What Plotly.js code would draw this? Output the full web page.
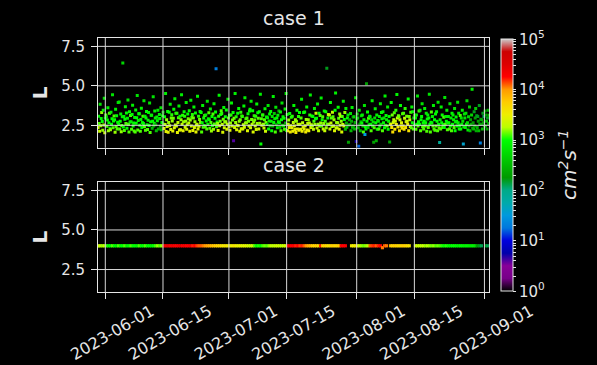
<!DOCTYPE html>
<html><head><meta charset="utf-8">
<script src="https://cdn.plot.ly/plotly-3.0.1.min.js"></script>
<style>html,body{margin:0;padding:0;background:#000;}</style>
</head><body><div id="chart" style="width:597px;height:365px;"></div>
<script>
// ---------- DATA ----------
const subplotTitles = ['case 1', 'case 2'];
const tickDates = ['2023-06-01','2023-06-15','2023-07-01','2023-07-15','2023-08-01','2023-08-15','2023-09-01'];
const yTickVals = [2.5, 5.0, 7.5];
const yTickText = ['2.5', '5.0', '7.5'];
const cbDecades = [0, 1, 2, 3, 4, 5];   // colorbar 10^0 ... 10^5 (cm^2 s^-1)
const cbLabel = '<i>cm<sup>2</sup>s<sup>\u22121</sup></i>';

// case 1: samples every 3 h from 2023-05-30 06:00, 8 per day (one row per day)
const case1Start = '2023-05-30T06:00:00';
const case1StepHours = 3;
const case1_L = [
2.36,3.08,2.61,2.12,3.84,2.47,2.93,3.31, 2.74,2.18,3.45,2.52,4.21,2.03,2.97,3.16,
3.02,2.44,2.83,3.62,2.15,2.66,3.27,2.31, 2.22,3.33,2.57,2.91,4.43,2.35,2.78,3.09,
2.85,2.06,3.52,2.43,3.11,2.27,2.69,3.94, 2.55,3.97,2.26,2.76,3.21,2.09,2.49,3.04,
6.45,2.39,3.06,2.17,2.88,3.67,2.62,3.28, 2.31,2.95,4.11,2.56,2.08,3.36,2.71,3.12,
2.73,2.25,3.18,3.77,2.46,2.64,2.14,2.99, 2.07,3.47,2.63,2.98,4.39,2.21,2.81,3.24,
3.23,2.51,2.13,2.87,3.58,2.36,2.68,3.07, 2.61,4.05,2.42,3.07,2.19,2.96,3.38,2.53,
2.24,2.82,3.31,2.49,3.91,2.04,2.72,3.14, 3.13,2.32,2.76,4.31,2.45,2.63,3.41,2.97,
2.53,2.15,3.03,2.79,3.46,2.27,2.91,3.19, 2.93,2.44,3.62,2.22,2.67,3.11,3.33,2.57,
2.29,3.05,2.55,4.52,2.11,2.85,2.42,3.38, 2.06,2.67,3.33,2.47,3.83,2.24,2.96,3.17,
2.77,2.14,2.95,3.51,2.34,4.19,2.52,3.26, 2.45,3.26,2.05,2.68,2.98,3.73,2.21,3.08,
2.22,2.86,4.44,2.57,3.13,2.16,2.73,3.36, 3.07,2.37,2.75,3.95,2.25,2.53,3.21,2.91,
2.64,3.42,2.12,2.83,4.09,2.46,2.99,3.18, 2.17,2.96,3.66,2.36,2.73,3.28,2.08,2.51,
2.56,4.34,2.26,3.08,2.44,2.87,3.37,2.67, 3.31,2.07,2.66,3.75,2.38,2.97,2.49,3.12,
2.41,3.16,2.77,2.27,4.02,2.56,2.91,3.29, 2.85,2.32,3.53,2.67,2.14,3.06,2.48,3.22,
2.25,3.86,2.58,2.95,3.35,6.08,2.41,2.71, 2.62,2.17,3.07,4.41,2.47,2.76,3.19,3.43,
3.25,2.55,2.06,2.88,3.63,2.35,2.71,3.04, 2.73,3.47,2.25,2.57,4.15,2.96,2.42,3.14,
2.18,2.65,3.15,3.92,2.46,2.83,3.31,1.52, 2.95,2.36,4.52,2.67,3.05,2.22,2.51,3.27,
2.47,3.56,2.75,2.13,2.86,3.33,2.28,3.09, 3.06,2.27,2.53,3.72,2.37,4.24,2.65,2.92,
2.66,2.97,2.16,3.23,2.75,2.45,3.41,3.51, 2.35,4.02,2.87,2.56,3.43,2.07,2.71,3.11,
2.83,2.45,3.08,2.23,3.85,2.62,3.29,2.95, 2.27,3.36,2.63,4.46,1.31,2.92,2.50,3.16,
3.16,2.56,2.33,2.85,3.55,2.12,2.68,3.02, 2.55,2.98,3.75,2.26,2.77,3.22,2.47,3.37,
2.75,2.16,3.06,2.45,4.33,2.67,3.25,2.92, 2.07,3.65,2.56,2.96,2.35,3.13,2.72,3.41,
2.66,2.37,3.35,2.15,2.86,3.91,2.50,3.04, 2.45,2.95,2.25,3.53,2.65,4.51,2.17,3.19,
2.16,2.57,2.83,2.36,3.25,2.08,2.47,3.01, 2.35,3.07,2.13,2.67,3.76,2.46,2.23,2.85,
2.05,2.76,3.45,2.26,2.55,3.06,2.18,3.31, 2.57,2.25,2.96,4.15,2.13,2.66,2.37,3.31,
2.26,3.35,2.47,2.07,2.87,3.66,2.21,2.62, 2.86,2.15,2.65,3.16,4.42,2.36,2.53,3.09,
2.46,3.06,2.25,2.75,3.57,2.55,2.91,3.27, 2.95,2.33,3.85,2.56,2.16,3.26,2.45,3.12,
2.65,4.23,2.46,2.86,3.05,2.26,2.61,3.41, 2.15,2.75,3.36,2.35,6.11,2.56,2.97,3.18,
2.56,3.16,2.27,3.95,2.65,2.96,2.42,3.33, 3.05,2.46,2.85,2.16,3.46,4.55,2.33,2.67,
2.35,2.66,3.65,2.95,2.25,3.22,2.51,3.07, 2.76,2.07,3.06,2.55,4.02,2.46,2.87,3.31,
2.25,3.56,2.65,2.37,2.96,3.15,1.42,2.52, 2.85,2.55,3.25,2.16,2.76,3.63,2.38,3.02,
2.46,3.05,2.26,2.67,4.25,1.47,2.90,3.21, 2.96,2.35,1.18,3.45,2.56,2.15,2.72,3.11,
2.65,3.16,2.46,2.07,2.85,3.75,1.92,2.41, 2.27,5.13,2.76,3.35,2.36,2.95,2.53,3.07,
3.05,2.56,2.16,2.86,4.06,2.45,2.71,1.43, 2.35,2.96,3.55,2.66,1.52,3.16,2.25,2.81,
2.76,2.26,3.06,2.46,3.86,2.57,3.31,2.92, 2.16,3.36,2.66,2.96,2.35,4.35,2.51,3.12,
2.86,2.45,3.66,2.25,2.76,3.06,1.45,2.58, 2.56,3.95,2.36,3.15,2.08,2.67,2.85,3.29,
2.25,2.76,3.46,2.55,4.45,2.96,2.40,3.11, 3.06,2.16,2.86,3.76,2.46,2.66,2.31,3.23,
2.46,3.26,2.25,2.95,3.56,2.36,2.72,3.08, 2.76,2.56,4.16,2.16,3.06,2.86,2.43,3.33,
2.35,3.66,2.66,3.36,2.26,2.96,2.52,3.13, 2.96,2.25,3.16,2.56,4.36,2.46,2.73,3.41,
2.56,3.46,2.16,2.86,3.06,3.86,2.41,2.65, 2.26,2.76,3.56,2.46,2.66,3.26,2.13,2.90,
3.16,2.36,2.96,4.46,2.56,2.07,2.70,3.35, 2.66,3.06,2.46,3.76,2.26,2.86,2.18,3.21,
2.46,3.36,2.76,2.16,3.96,2.56,2.35,1.41, 2.86,2.26,3.66,2.66,3.16,2.36,2.55,3.01,
2.36,4.26,2.56,3.06,2.76,3.46,2.22,2.65, 3.06,2.66,2.26,3.86,2.46,2.96,2.15,3.27,
2.56,3.16,2.86,2.36,3.56,2.16,2.71,3.02, 2.76,2.46,3.96,2.66,3.26,2.26,2.48,3.12,
2.26,2.96,2.56,3.46,2.76,1.32,2.40,3.22, 2.96,2.36,3.26,2.56,4.06,2.66,2.21,3.05,
2.46,3.66,2.16,2.86,2.56,3.16,4.78,2.33, 2.66,2.26,3.36,2.46,2.96,3.56,2.15,3.11,
2.36,3.06,2.76,2.16,3.76,2.56,1.38,2.88, 2.56,2.86,2.26,3.26,2.66,3.06,2.45,3.41,
2.46,3.16,2.76,2.26,2.96,3.46,2.61,3.13
];
const case1_log10D = [
3.3,2.9,3.1,3.3,2.8,3.2,3.0,3.2, 3.0,3.2,2.9,3.2,2.8,3.3,3.0,3.1,
2.9,3.1,3.0,2.9,3.2,3.0,3.1,2.9, 3.2,2.9,3.0,3.0,2.8,3.1,3.0,3.1,
3.0,3.2,2.9,3.1,3.0,3.1,3.0,2.8, 3.0,2.8,3.1,3.0,2.9,3.2,3.1,2.9,
2.7,3.0,2.9,3.1,3.0,2.9,3.1,3.0, 3.0,2.9,2.8,3.1,3.1,3.0,2.9,3.1,
2.9,3.1,3.0,2.9,3.0,3.0,3.1,2.9, 3.1,2.9,3.0,3.0,2.8,3.1,2.9,3.0,
3.0,3.0,3.1,2.9,2.9,3.0,2.9,3.1, 3.0,2.8,3.1,2.9,3.1,3.0,3.0,2.9,
3.1,2.9,2.9,3.0,2.8,3.1,3.0,3.0, 2.9,2.5,3.0,2.8,2.4,3.0,2.9,2.9,
2.4,2.5,2.9,3.0,2.8,2.4,2.6,2.9, 2.9,2.4,2.8,2.5,3.0,2.9,2.5,3.0,
3.4,3.0,3.25,2.9,3.45,3.2,3.35,3.0, 3.45,3.2,3.0,3.35,2.9,3.4,3.15,3.05,
3.2,3.45,3.15,3.0,3.4,2.9,3.3,3.05, 3.35,3.05,3.45,3.25,3.1,2.9,3.4,3.0,
3.4,3.2,2.9,3.3,3.05,3.45,3.2,3.0, 3.05,3.35,3.2,2.9,3.4,3.3,3.0,3.15,
3.25,3.0,3.45,3.2,2.9,3.35,3.1,3.05, 3.45,3.15,2.95,3.4,3.2,3.0,3.45,3.3,
3.3,2.9,3.4,3.05,3.35,3.15,3.0,3.2, 3.0,3.1,3.0,2.9,3.1,3.0,2.9,3.1,
3.1,2.9,3.0,3.1,2.8,3.0,2.9,3.1, 3.0,3.1,2.9,3.1,3.2,3.0,3.0,3.1,
3.2,2.9,3.1,3.0,3.0,1.3,3.1,3.0, 3.2,3.4,3.05,2.95,3.3,3.15,3.0,3.1,
3.05,3.25,3.4,3.15,2.95,3.35,3.2,3.0, 3.2,3.0,3.4,3.25,2.9,3.1,3.35,3.05,
3.4,3.2,3.05,2.95,3.3,3.15,3.0,0.6, 3.15,3.35,2.9,3.2,3.05,3.4,3.25,3.0,
3.3,3.0,3.2,3.4,3.15,3.05,3.35,3.1, 3.05,3.4,3.25,2.95,3.35,2.9,3.2,3.1,
3.2,3.1,3.4,3.0,3.15,3.3,3.0,2.95, 3.35,2.9,3.15,3.25,3.0,3.4,3.2,3.05,
3.15,3.3,3.05,3.35,2.95,3.2,3.0,3.1, 3.35,3.0,3.2,2.9,3.0,3.1,3.25,3.05,
3.05,3.2,3.3,3.1,2.95,3.35,3.15,3.0, 2.9,2.9,2.8,3.0,2.9,3.0,2.5,3.0,
2.9,3.0,2.8,2.5,2.9,3.0,2.6,2.9, 3.1,2.8,2.4,3.0,2.9,2.9,3.0,2.5,
3.0,2.6,2.9,3.1,3.0,2.8,2.4,3.0, 2.8,3.0,3.1,2.9,2.5,2.9,3.0,2.9,
3.5,3.3,3.2,3.45,3.0,3.55,3.4,3.05, 3.45,3.05,3.5,3.25,2.95,3.4,3.5,3.2,
3.55,3.2,3.0,3.45,3.3,3.05,3.5,3.0, 3.3,3.45,3.1,2.9,3.5,3.25,3.4,3.0,
3.45,3.0,3.4,3.55,3.2,2.95,3.5,3.25, 3.2,3.5,3.25,3.05,2.9,3.4,3.3,3.05,
3.2,3.0,3.3,3.1,2.9,3.2,3.0,3.3, 3.0,3.3,2.9,3.2,3.3,3.0,3.2,3.1,
3.2,2.9,3.1,3.0,3.1,3.3,3.2,2.9, 3.3,3.1,3.0,3.2,2.2,3.1,3.0,3.3,
3.2,3.3,3.3,3.0,3.3,3.1,3.2,3.3, 3.1,3.3,3.2,3.4,3.0,2.9,3.3,3.2,
3.3,3.2,3.0,3.1,3.4,3.2,3.3,3.3, 3.2,3.4,3.1,3.3,2.9,3.3,3.0,3.2,
2.5,2.9,2.4,2.6,3.0,2.8,2.3,2.5, 2.4,2.3,2.8,2.5,2.4,2.9,2.6,2.3,
2.3,2.7,2.5,2.4,2.9,0.7,2.4,2.6, 2.6,2.4,1.2,2.8,2.3,2.5,2.4,2.7,
3.0,2.9,2.6,3.1,2.9,2.8,1.5,3.0, 3.0,2.3,2.9,3.0,2.6,3.1,2.9,3.0,
2.9,3.0,3.1,2.7,2.9,3.0,2.8,2.3, 3.1,2.8,2.9,3.0,2.4,2.9,3.0,2.9,
2.8,3.1,2.9,3.0,2.9,2.6,3.0,2.9, 3.1,2.9,3.0,2.8,3.0,2.9,2.8,3.0,
2.9,3.1,2.8,3.0,2.9,3.0,2.3,2.9, 3.5,3.0,3.6,3.15,3.65,3.35,3.3,3.1,
3.6,3.35,3.05,3.5,2.95,3.3,3.55,3.15, 3.15,3.65,3.3,3.0,3.55,3.4,3.6,3.1,
3.55,3.1,3.6,3.3,3.05,3.6,3.35,3.15, 3.35,3.5,2.95,3.6,3.15,3.3,3.5,3.1,
3.1,2.9,3.0,3.0,3.1,2.9,3.0,3.1, 3.0,3.1,2.9,3.0,2.8,3.1,3.0,3.1,
3.0,2.9,3.1,3.0,3.0,2.8,3.1,3.0, 3.1,3.0,2.9,3.1,3.0,2.9,3.1,3.0,
2.9,3.1,3.0,2.8,3.0,3.1,3.0,3.1, 3.0,2.9,3.1,2.9,3.1,3.0,3.1,3.0,
3.1,2.9,3.0,3.1,2.8,3.0,3.1,1.9, 2.9,3.1,2.9,3.0,3.0,3.1,3.0,3.1,
3.0,2.8,3.1,2.9,3.0,2.9,3.1,3.0, 2.9,3.0,3.1,2.8,3.0,2.9,3.1,3.0,
3.0,2.9,2.9,3.1,2.8,3.0,2.9,3.0, 2.9,3.0,2.8,2.9,2.9,3.0,2.9,3.1,
3.0,2.8,2.9,2.9,2.8,1.6,2.9,2.8, 2.8,2.9,2.8,3.0,2.7,2.8,2.9,2.7,
2.4,2.6,2.5,2.3,2.4,2.7,2.9,2.3, 2.3,2.5,2.2,2.4,2.3,2.6,2.4,2.2,
2.4,2.2,2.3,2.5,2.2,2.4,1.3,2.3, 2.3,2.4,2.5,2.2,2.3,2.1,2.4,2.3,
2.4,2.3,2.5,2.3,2.2,2.4,2.3,2.5
];

// case 2: samples every 12 h from 2023-05-30 06:00 (null = no data)
const case2Start = '2023-05-30T06:00:00';
const case2StepHours = 12;
const case2_L = [
4.0,4.0,4.0,4.0,4.0,4.0,4.0,4.0,4.0,4.0, 4.0,4.0,4.0,4.0,4.0,4.0,4.0,4.0,4.0,4.0,
4.0,4.0,4.0,4.0,4.0,4.0,4.0,4.0,4.0,4.0, 4.0,4.0,4.0,4.0,4.0,4.0,4.0,4.0,4.0,4.0,
4.0,4.0,4.0,4.0,4.0,4.0,4.0,4.0,4.0,4.0, 4.0,4.0,4.0,4.0,4.0,4.0,4.0,4.0,4.0,4.0,
4.0,4.0,4.0,4.0,4.0,4.0,4.0,4.0,4.0,4.0, 4.0,4.0,4.0,4.0,4.0,4.0,4.0,4.0,4.0,4.0,
4.0,4.0,4.0,4.0,4.0,4.0,4.0,4.0,4.0,4.0, 4.0,4.0,4.0,4.0,4.0,4.0,4.0,4.0,4.0,4.0,
4.0,4.0,4.0,4.0,4.0,4.0,4.0,4.0,4.0,4.0, 4.0,4.0,4.0,4.0,4.0,4.0,4.0,4.0,4.0,4.0,
4.0,null,null,4.0,4.0,4.0,4.0,4.0,4.0,4.0, 4.0,4.0,4.0,4.0,4.0,4.0,4.0,4.0,3.88,4.0,
4.0,null,4.0,4.0,4.0,4.0,4.0,4.0,4.0,4.0, 4.0,4.0,null,null,4.0,4.0,4.0,4.0,4.0,4.0,
4.0,4.0,4.0,4.0,4.0,4.0,4.0,4.0,4.0,4.0, 4.0,4.0,4.0,4.0,4.0,4.0,4.0,4.0,4.0,4.0,
4.0,4.0,4.0,4.0,4.0,4.0,4.0,null,4.0,4.0
];
const case2_log10D = [
3.3,3.3,3.2,3.3,3.1,3.0,
3.0,3.1,3.0,2.9,3.1,3.0,3.0,3.1,2.9,3.0,3.1,3.0,3.0,2.9,3.1,3.0,3.0,3.1,3.0,3.0,2.9,3.0,3.1,3.2,3.1,3.2,
4.4,4.35,4.45,4.3,4.4,4.35,4.3,4.4,4.45,4.3,4.35,4.25,4.3,4.4,4.2,4.25,
4.15,4.1,4.1,4.05,4.0,3.95,3.9,3.85,3.8,3.75,3.7,3.7,
3.6,3.55,3.6,3.5,3.55,3.5,3.6,3.5,3.45,3.5,3.4,3.45,3.4,3.35,3.3,3.3,
3.1,3.0,3.05,3.0,3.1,3.15,3.1,3.2,
3.3,3.25,3.3,3.35,3.3,3.25,3.3,3.35,
4.3,4.35,4.25,4.3,4.2,4.25,4.15,4.2,4.1,4.0,3.9,3.85,
3.75,3.7,3.75,3.65,4.2,3.7,3.75,3.65,3.6,3.7,3.75,3.65,3.7,3.75,
4.3,4.25,4.3,
null,null,
3.55,3.5,3.55,3.45,
3.25,3.2,3.15,3.2,3.25,
4.1,4.15,4.2,4.1,4.2,4.25,4.05,4.1,4.05,
null,
3.75,3.7,3.75,3.7,3.65,3.7,3.75,3.7,3.65,3.6,
null,null,
3.35,3.3,3.3,3.25,3.3,3.2,3.25,3.2,3.15,3.2,3.1,3.15,3.1,3.05,
3.0,3.05,3.0,2.95,3.0,3.0,2.95,2.9,3.0,2.95,2.9,2.95,2.9,2.85,2.9,2.8,
2.3,2.2,2.1,
null,
2.2,2.1
];

// ---------- helpers ----------
function sampleTimes(start, stepHours, n) {
  const t0 = Date.parse(start + 'Z');
  const out = [];
  for (let k = 0; k < n; k++) {
    out.push(new Date(t0 + k * stepHours * 3600e3).toISOString().slice(0, 19).replace('T', ' '));
  }
  return out;
}

// matplotlib nipy_spectral
const nipy = [
 [0.00,[0,0,0]],[0.05,[0.4667,0,0.5333]],[0.10,[0.5333,0,0.6]],[0.15,[0,0,0.6667]],
 [0.20,[0,0,0.8667]],[0.25,[0,0.4667,0.8667]],[0.30,[0,0.6,0.8667]],[0.35,[0,0.6667,0.6667]],
 [0.40,[0,0.6667,0.5333]],[0.45,[0,0.6,0]],[0.50,[0,0.7333,0]],[0.55,[0,0.8667,0]],
 [0.60,[0,1,0]],[0.65,[0.7333,1,0]],[0.70,[0.9333,0.9333,0]],[0.75,[1,0.8,0]],
 [0.80,[1,0.6,0]],[0.85,[1,0,0]],[0.90,[0.8667,0,0]],[0.95,[0.8,0,0]],[1.00,[0.8,0.8,0.8]]
];
const colorscale = nipy.map(([v, c]) => [v, 'rgb(' + c.map(x => Math.round(x * 255)).join(',') + ')']);

const cbVals = [], cbText = [];
cbDecades.forEach((d, i) => {
  cbVals.push(d); cbText.push('10<sup>' + d + '</sup>');
  if (i < cbDecades.length - 1) for (let m = 2; m <= 9; m++) { cbVals.push(d + Math.log10(m)); cbText.push(''); }
});

const FG = '#e6e6e6';
const FONT = 'DejaVu Sans, sans-serif';
const xRange = ['2023-05-30 05:30', '2023-09-02 02:30'];
const yRange = [1.08, 8.03];

const traces = [
  { type: 'scatter', mode: 'markers', xaxis: 'x', yaxis: 'y',
    x: sampleTimes(case1Start, case1StepHours, case1_L.length), y: case1_L,
    marker: { symbol: 'square', size: 3.0, color: case1_log10D, coloraxis: 'coloraxis', line: { width: 0 } },
    hoverinfo: 'skip', showlegend: false },
  { type: 'scatter', mode: 'markers', xaxis: 'x2', yaxis: 'y2',
    x: sampleTimes(case2Start, case2StepHours, case2_L.length), y: case2_L,
    marker: { symbol: 'square', size: 3.2, color: case2_log10D, coloraxis: 'coloraxis', line: { width: 0 } },
    hoverinfo: 'skip', showlegend: false }
];

const baseX = { type: 'date', range: xRange, tickmode: 'array', tickvals: tickDates, ticktext: tickDates,
  showgrid: false, zeroline: false, showline: true, linecolor: FG, linewidth: 1, mirror: true,
  ticks: 'outside', ticklen: 6, tickwidth: 1, tickcolor: FG, domain: [0, 1],
  tickfont: { family: FONT, size: 16, color: FG } };
const baseY = { range: yRange, tickmode: 'array', tickvals: yTickVals, ticktext: yTickText,
  showgrid: false, zeroline: false, showline: true, linecolor: FG, linewidth: 1, mirror: true,
  ticks: 'outside', ticklen: 6, tickwidth: 1, tickcolor: FG, ticklabelstandoff: 3,
  tickfont: { family: FONT, size: 15, color: FG },
  title: { text: '<b>L</b>', font: { family: FONT, size: 20, color: FG }, standoff: 8 } };

// grid lines drawn above the markers, as in the reference
const shapes = [];
[['x','y'],['x2','y2']].forEach(([xa, ya]) => {
  tickDates.forEach(d => shapes.push({ type: 'line', layer: 'above', xref: xa, yref: ya + ' domain',
    x0: d, x1: d, y0: 0, y1: 1, line: { color: '#d8d8d8', width: 1 } }));
  yTickVals.forEach(v => shapes.push({ type: 'line', layer: 'above', xref: xa + ' domain', yref: ya,
    x0: 0, x1: 1, y0: v, y1: v, line: { color: '#d8d8d8', width: 1 } }));
});

const layout = {
  width: 597, height: 365,
  paper_bgcolor: '#000', plot_bgcolor: '#000',
  margin: { l: 98, r: 108, t: 38, b: 73 },
  font: { family: FONT, color: FG },
  xaxis: Object.assign({}, baseX, { anchor: 'y', showticklabels: false }),
  xaxis2: Object.assign({}, baseX, { anchor: 'y2', tickangle: -30, ticklabelshift: 46, ticklabelstandoff: -3 }),
  yaxis: Object.assign({}, baseY, { domain: [0.568, 1], anchor: 'x' }),
  yaxis2: Object.assign({}, baseY, { domain: [0, 0.433], anchor: 'x2' }),
  coloraxis: {
    cmin: 0, cmax: 5, colorscale: colorscale,
    colorbar: {
      x: 1.0307, xanchor: 'left', y: 0.499, yanchor: 'middle', len: 0.994, lenmode: 'fraction',
      thickness: 12, thicknessmode: 'pixels', xpad: 0, ypad: 0,
      outlinecolor: FG, outlinewidth: 1,
      tickmode: 'array', tickvals: cbVals, ticktext: cbText,
      ticks: 'outside', ticklen: 3, tickcolor: FG,
      tickfont: { family: FONT, size: 15, color: FG }
    }
  },
  annotations: [
    { text: subplotTitles[0], xref: 'paper', yref: 'paper', x: 0.5, y: 1.080, xanchor: 'center', yanchor: 'middle',
      showarrow: false, font: { family: FONT, size: 19, color: FG } },
    { text: subplotTitles[1], xref: 'paper', yref: 'paper', x: 0.5, y: 0.501, xanchor: 'center', yanchor: 'middle',
      showarrow: false, font: { family: FONT, size: 19, color: FG } },
    { text: cbLabel, xref: 'paper', yref: 'paper', x: 1.202, y: 0.50, xanchor: 'center', yanchor: 'middle',
      textangle: -90, showarrow: false, font: { family: FONT, size: 20, color: FG } }
  ],
  shapes: shapes
};

Plotly.newPlot('chart', traces, layout, { displayModeBar: false, staticPlot: true });
</script>
</body></html>
